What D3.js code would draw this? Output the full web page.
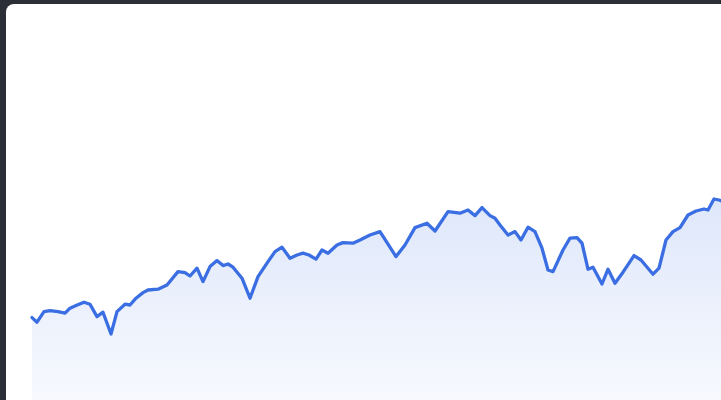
<!DOCTYPE html>
<html>
<head>
<meta charset="utf-8">
<script src="https://cdn.jsdelivr.net/npm/d3@7"></script>
<style>
  html, body { margin: 0; padding: 0; width: 721px; height: 400px; overflow: hidden; background: #2b2e37; }
  #card { position: absolute; left: 6px; top: 4px; width: 760px; height: 420px; background: #ffffff; border-top-left-radius: 8px; overflow: hidden; }
  svg { position: absolute; left: -6px; top: -4px; }
</style>
</head>
<body>
<div id="card"></div>
<script>
// day offsets of each observation
const days = [0, 5, 12, 18, 26, 33, 38, 44, 52, 58, 65, 71, 79, 85, 93, 98, 104, 111, 116, 126,
  135, 146, 153, 158, 165, 171, 178, 185, 191, 196, 201, 210, 218, 226, 235, 243, 250, 258, 265, 271,
  277, 284, 290, 296, 305, 311, 321, 328, 338, 348, 364, 373, 383, 395, 403, 416, 428, 436, 443, 450,
  458, 463, 468, 476, 483, 489, 496, 503, 510, 516, 521, 531, 538, 545, 550, 556, 561, 570, 576, 583,
  591, 602, 609, 621, 627, 634, 641, 648, 656, 664, 672, 676, 682, 687, 693];
// index values
const values = [41.2, 38.9, 44.2, 44.7, 44.2, 43.4, 45.9, 47.2, 48.9, 47.9, 41.7, 43.9, 33.0, 44.2, 47.9, 47.5,
  50.9, 53.7, 55.0, 55.4, 57.5, 64.2, 63.7, 62.0, 65.9, 59.2, 66.7, 69.7, 67.2, 68.0, 66.4, 60.9,
  50.9, 61.7, 68.4, 74.2, 76.4, 70.9, 72.5, 73.4, 72.5, 70.4, 75.0, 73.4, 77.5, 78.7, 78.4, 80.0,
  82.5, 84.2, 71.7, 77.5, 86.2, 88.4, 84.5, 94.2, 93.4, 95.0, 92.2, 96.2, 92.2, 90.9, 87.5, 82.5,
  84.2, 80.0, 86.4, 84.2, 75.9, 65.0, 64.2, 75.0, 80.9, 81.2, 78.4, 65.4, 66.4, 58.0, 65.4, 58.4,
  63.9, 72.2, 70.0, 62.9, 65.9, 80.0, 84.2, 86.2, 92.5, 94.5, 95.5, 95.0, 100.5, 100.0, 99.0];

const data = days.map((d, i) => ({ d, v: values[i] }));

const W = 721, H = 400;
const svg = d3.select("#card").append("svg").attr("width", W).attr("height", H);

const x = d3.scaleLinear().domain([0, 689]).range([32, 721]);
const y = d3.scaleLinear().domain([0, 200]).range([400, 0]);

const defs = svg.append("defs");
const grad = defs.append("linearGradient")
  .attr("id", "areaGrad").attr("gradientUnits", "userSpaceOnUse")
  .attr("x1", 0).attr("x2", 0).attr("y1", 195).attr("y2", 400);
grad.append("stop").attr("offset", "0%").attr("stop-color", "#3b6fe3").attr("stop-opacity", 0.17);
grad.append("stop").attr("offset", "100%").attr("stop-color", "#3b6fe3").attr("stop-opacity", 0.04);

const area = d3.area().x(p => x(p.d)).y0(y(0)).y1(p => y(p.v)).curve(d3.curveLinear);
const line = d3.line().x(p => x(p.d)).y(p => y(p.v)).curve(d3.curveLinear);

svg.append("path").datum(data).attr("d", area).attr("fill", "url(#areaGrad)");
svg.append("path").datum(data).attr("d", line)
  .attr("fill", "none").attr("stroke", "#3a6ee2").attr("stroke-width", 3.3)
  .attr("stroke-linejoin", "round").attr("stroke-linecap", "round");
</script>
</body>
</html>
